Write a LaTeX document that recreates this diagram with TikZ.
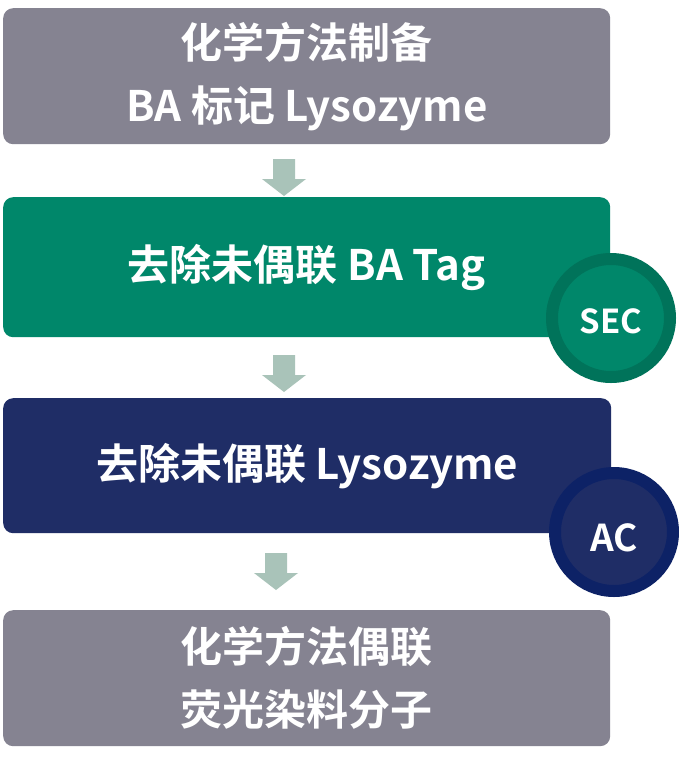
\documentclass[tikz,border=0pt]{standalone}
\usepackage{fontspec}
\setmainfont{Noto Sans CJK SC}[BoldFont={Noto Sans CJK SC Bold}]
\definecolor{boxgray}{HTML}{858391}
\definecolor{boxgreen}{HTML}{00876A}
\definecolor{ringgreen}{HTML}{00735A}
\definecolor{boxnavy}{HTML}{1F2D66}
\definecolor{ringnavy}{HTML}{0D2266}
\definecolor{arrowcol}{HTML}{A9C3B9}
\begin{document}
\begin{tikzpicture}[x=1pt,y=-1pt,
  stepbox/.style={rounded corners=10pt, draw=none, inner sep=0pt, minimum width=607pt, minimum height=136pt, anchor=north west, text=white, font=\bfseries\fontsize{42}{63}\selectfont, align=center},
  badge/.style={circle, line width=12pt, inner sep=0pt, minimum size=118pt},
  badgetext/.style={text=white, inner sep=0pt},
  flowarrow/.style={fill=arrowcol, draw=none}]
\useasboundingbox (0,0) rectangle (678,761);
\fill[white] (0,0) rectangle (678,761);
\node[stepbox, fill=boxgray] (b1) at (3,8) {化学方法制备\\BA 标记 Lysozyme};
\node[stepbox, fill=boxgreen, minimum height=140pt] (b2) at (3,197) {去除未偶联 BA Tag};
\node[stepbox, fill=boxnavy, minimum width=608pt, minimum height=135pt] (b3) at (3,398) {去除未偶联 Lysozyme};
\node[stepbox, fill=boxgray] (b4) at (3,610) {化学方法偶联\\荧光染料分子};
\node[badge, fill=boxgreen, draw=ringgreen] (sec) at (611,318) {};
\node[badgetext, font=\bfseries\fontsize{33}{33}\selectfont] (sect) at ([yshift=-3pt]sec.center) {SEC};
\node[badge, fill=boxnavy, draw=ringnavy] (ac) at (614,532) {};
\node[badgetext, font=\bfseries\fontsize{37}{37}\selectfont] (act) at ([yshift=-6pt]ac.center) {AC};
\foreach \cx/\ty in {284/159, 284/355, 276/553} {
  \fill[flowarrow] (\cx-11,\ty) -- (\cx+11,\ty) -- (\cx+11,\ty+20) -- (\cx+22,\ty+20) -- (\cx,\ty+37) -- (\cx-22,\ty+20) -- (\cx-11,\ty+20) -- cycle;
}
\end{tikzpicture}
\end{document}
